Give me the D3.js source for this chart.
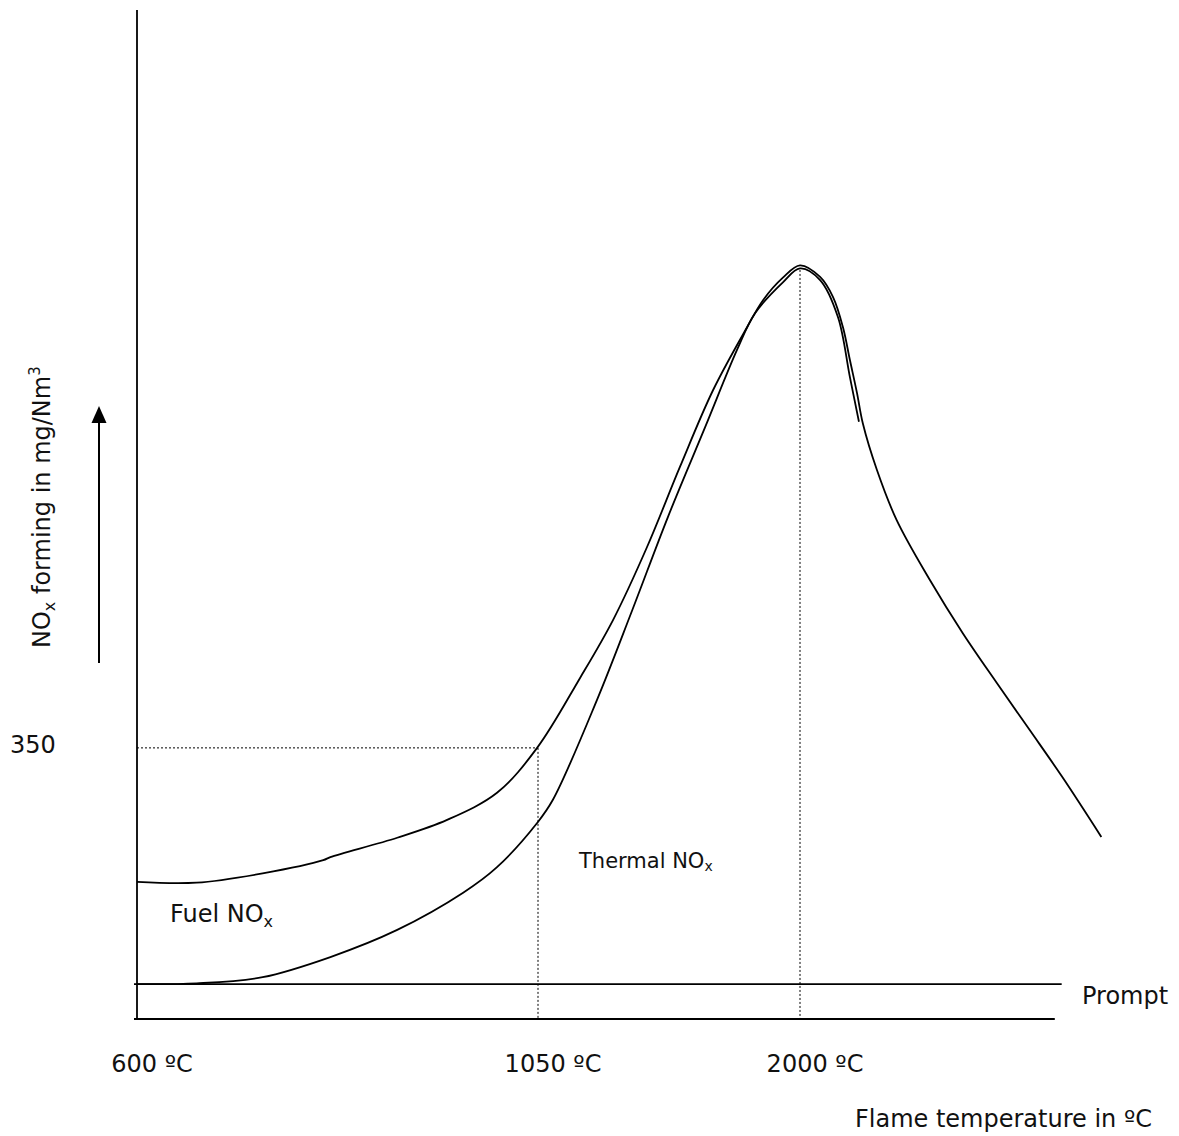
<!DOCTYPE html>
<html>
<head>
<meta charset="utf-8">
<script src="https://cdn.jsdelivr.net/npm/d3@7"></script>
<style>
  body { margin: 0; background: #fff; }
  text { font-family: "DejaVu Sans", Verdana, sans-serif; fill: #111; }
</style>
</head>
<body>
<div id="chart"></div>
<script>
// Schematic NOx formation vs flame temperature
const width = 1179;
const height = 1136;

// total NOx (fuel + thermal) curve: [temperature ºC, mg/Nm3]
const totalTemp = [600, 667, 741, 809, 817, 892, 948, 1004, 1049, 1202, 1322, 1445, 1565, 1685, 1808, 1866, 1938, 2000, 2073, 2120, 2156, 2181, 2207, 2228, 2279, 2351, 2471, 2591, 2714, 2834, 2953, 3094];
const totalNox = [177, 176, 188, 205, 209, 234, 257, 292, 350, 440, 515, 609, 713, 812, 893, 928, 957, 973, 958, 932, 893, 851, 808, 769, 709, 644, 567, 498, 434, 373, 312, 235];

// thermal NOx curve, starting at the prompt level
const thermalTemp = [600, 667, 741, 817, 892, 966, 1004, 1049, 1104, 1264, 1392, 1521, 1656, 1772, 1837, 1938, 2000, 2073, 2138, 2181, 2214];
const thermalNox = [45, 46, 54, 80, 115, 163, 196, 253, 283, 412, 528, 648, 764, 864, 911, 951, 969, 954, 906, 829, 771];

// prompt NOx level
const promptNox = 45;
const promptEnd = 2950;

// marked points
const tickTemps = [600, 1050, 2000];
const tickLabels = ["600 ºC", "1050 ºC", "2000 ºC"];
const markNox = 350;
const peakTemp = 2000;
const axisEnd = 2925;

const x = d3.scaleLinear()
    .domain([600, 1050, 2000, 3100])
    .range([137, 538, 800, 1103]);

const y = d3.scaleLinear()
    .domain([0, 1300])
    .range([1019, 12]);

const svg = d3.select("#chart")
    .append("svg")
    .attr("width", width)
    .attr("height", height);

const line = d3.line()
    .x(d => x(d[0]))
    .y(d => y(d[1]))
    .curve(d3.curveCatmullRom.alpha(0.5));

// axes
svg.append("line")
    .attr("x1", x(600)).attr("x2", x(600))
    .attr("y1", y(1300) - 2).attr("y2", y(0))
    .attr("stroke", "#000").attr("stroke-width", 1.8);

svg.append("line")
    .attr("x1", x(600) - 3).attr("x2", x(axisEnd))
    .attr("y1", y(0)).attr("y2", y(0))
    .attr("stroke", "#000").attr("stroke-width", 1.8);

// prompt line
svg.append("line")
    .attr("x1", x(600) - 3).attr("x2", x(promptEnd))
    .attr("y1", y(promptNox)).attr("y2", y(promptNox))
    .attr("stroke", "#000").attr("stroke-width", 1.6);

// dotted guides
const dotted = svg.append("g")
    .attr("stroke", "#000")
    .attr("stroke-width", 1)
    .attr("stroke-dasharray", "2,2");

dotted.append("line")
    .attr("x1", x(600)).attr("x2", x(1050))
    .attr("y1", y(markNox)).attr("y2", y(markNox));
dotted.append("line")
    .attr("x1", x(1050)).attr("x2", x(1050))
    .attr("y1", y(markNox)).attr("y2", y(0));
dotted.append("line")
    .attr("x1", x(peakTemp)).attr("x2", x(peakTemp))
    .attr("y1", y(967)).attr("y2", y(0));

// curves
svg.append("path")
    .datum(d3.zip(totalTemp, totalNox))
    .attr("d", line)
    .attr("fill", "none")
    .attr("stroke", "#000")
    .attr("stroke-width", 1.8);

svg.append("path")
    .datum(d3.zip(thermalTemp, thermalNox))
    .attr("d", line)
    .attr("fill", "none")
    .attr("stroke", "#000")
    .attr("stroke-width", 1.8);

// x tick labels
svg.selectAll(".xlabel")
    .data(tickTemps)
    .enter()
    .append("text")
    .attr("class", "xlabel")
    .attr("x", d => x(d) + 15)
    .attr("y", 1072)
    .attr("text-anchor", "middle")
    .style("font-size", "24px")
    .text((d, i) => tickLabels[i]);

svg.append("text")
    .attr("x", 10)
    .attr("y", y(markNox) + 5)
    .style("font-size", "24px")
    .text("350");

svg.append("text")
    .attr("x", 1152)
    .attr("y", 1127)
    .attr("text-anchor", "end")
    .style("font-size", "24px")
    .text("Flame temperature in ºC");

svg.append("text")
    .attr("x", 1082)
    .attr("y", y(promptNox) + 20)
    .style("font-size", "24px")
    .text("Prompt");

// area labels
const fuel = svg.append("text")
    .attr("x", 170)
    .attr("y", 922)
    .style("font-size", "24px");
fuel.append("tspan").text("Fuel NO");
fuel.append("tspan").attr("dy", 5).style("font-size", "16px").text("x");

const thermal = svg.append("text")
    .attr("x", 579)
    .attr("y", 868)
    .style("font-size", "21px");
thermal.append("tspan").text("Thermal NO");
thermal.append("tspan").attr("dy", 3).style("font-size", "14px").text("x");

// y label with arrow
const ylab = svg.append("text")
    .attr("transform", "translate(50,648) rotate(-90)")
    .style("font-size", "24px");
ylab.append("tspan").text("NO");
ylab.append("tspan").attr("dy", 5).style("font-size", "16px").text("x");
ylab.append("tspan").attr("dy", -5).text(" forming in mg/Nm");
ylab.append("tspan").attr("dy", -10).style("font-size", "15px").text("3");

svg.append("line")
    .attr("x1", 99).attr("x2", 99)
    .attr("y1", 663).attr("y2", 420)
    .attr("stroke", "#000").attr("stroke-width", 2);

svg.append("path")
    .attr("d", d3.line()([[99, 406], [106.5, 423], [91.5, 423]]) + "Z")
    .attr("fill", "#000");
</script>
</body>
</html>
